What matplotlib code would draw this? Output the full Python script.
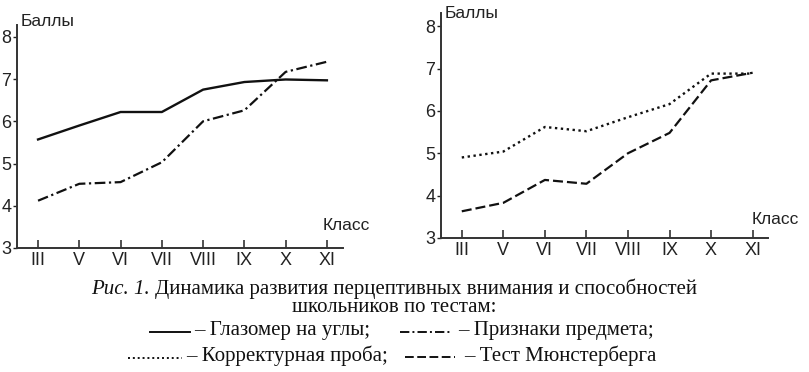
import matplotlib.pyplot as plt
from matplotlib.lines import Line2D

# Data
grades = ["III", "V", "VI", "VII", "VIII", "IX", "X", "XI"]

# left panel
eye_angles = [5.57, 5.90, 6.22, 6.22, 6.75, 6.93, 6.99, 6.97]      # Глазомер на углы
object_signs = [4.12, 4.52, 4.56, 5.03, 6.00, 6.26, 7.17, 7.41]    # Признаки предмета

# right panel
proof_test = [4.90, 5.04, 5.62, 5.52, 5.85, 6.16, 6.88, 6.88]      # Корректурная проба
munsterberg = [3.63, 3.83, 4.37, 4.28, 5.00, 5.48, 6.72, 6.90]     # Тест Мюнстерберга

W, H = 809, 372


def fx(x):
    return x / W


def fy(y):
    return 1 - y / H


SOLID = "-"
DASHDOT = (0, (4.8, 1.6, 1.0, 1.6))
DOTTED = (0, (1.0, 1.5))
DASHED = (0, (4.5, 1.8))
INK = "#111111"

plt.rcParams["font.family"] = ["Liberation Sans", "DejaVu Sans"]

fig = plt.figure(figsize=(W / 100, H / 100), dpi=100)

ax1 = fig.add_axes([fx(17), fy(248), (343 - 17) / W, (248 - 25) / H])
ax2 = fig.add_axes([fx(441), fy(238), (768 - 441) / W, (238 - 13) / H])

x = list(range(len(grades)))
ax1.plot(x, eye_angles, linestyle=SOLID, color=INK, lw=1.7)
ax1.plot(x, object_signs, linestyle=DASHDOT, color=INK, lw=1.6)
ax2.plot(x, proof_test, linestyle=DOTTED, color=INK, lw=1.7)
ax2.plot(x, munsterberg, linestyle=DASHED, color=INK, lw=1.6)

ax1.set_xlim(-0.51, 7.39)
ax1.set_ylim(3, 8.28)
ax2.set_xlim(-0.5, 7.37)
ax2.set_ylim(3, 8.31)

for ax in (ax1, ax2):
    for s in ("top", "right"):
        ax.spines[s].set_visible(False)
    for s in ("left", "bottom"):
        ax.spines[s].set_linewidth(1.4)
        ax.spines[s].set_color("#333333")
    ax.set_xticks(x, grades)
    ax.set_yticks([3, 4, 5, 6, 7, 8])
    ax.tick_params(axis="x", direction="in", length=6, width=1.1, pad=3,
                   labelsize=13, colors="#222222")
    ax.tick_params(axis="y", direction="out", length=3, width=1.0, pad=1,
                   labelsize=13, colors="#222222")
    ax.set_facecolor("none")

# axis captions
fig.text(fx(21), fy(22), "Баллы", fontsize=12.5, va="center", ha="left", color="#222222")
fig.text(fx(323), fy(226), "Класс", fontsize=12.5, va="center", ha="left", color="#222222")
fig.text(fx(445), fy(13), "Баллы", fontsize=12.5, va="center", ha="left", color="#222222")
fig.text(fx(752), fy(220), "Класс", fontsize=12.5, va="center", ha="left", color="#222222")

# figure caption
serif = ["Liberation Serif", "DejaVu Serif"]
cs = 15
renderer = fig.canvas.get_renderer()

head = fig.text(0, fy(289), "Рис. 1.", fontsize=cs, family=serif, style="italic",
                ha="left", va="center", color=INK)
rest = fig.text(0, fy(289), "Динамика развития перцептивных внимания и способностей",
                fontsize=cs, family=serif, ha="left", va="center", color=INK)
w_head = head.get_window_extent(renderer).width
w_rest = rest.get_window_extent(renderer).width
gap = 5
x0 = 394 - (w_head + w_rest + gap) / 2
head.set_x(fx(x0))
rest.set_x(fx(x0 + w_head + gap))

fig.text(fx(394), fy(308), "школьников по тестам:", fontsize=cs, family=serif,
         ha="center", va="center", color=INK)


def sample(x0, x1, y, ls):
    fig.add_artist(Line2D([fx(x0), fx(x1)], [fy(y), fy(y)], transform=fig.transFigure,
                          linestyle=ls, color=INK, lw=1.4))


sample(150, 190, 332, SOLID)
fig.text(fx(194), fy(331), "– Глазомер на углы;", fontsize=cs, family=serif,
         ha="left", va="center", color=INK)
sample(400, 452, 332, DASHDOT)
fig.text(fx(458), fy(331), "– Признаки предмета;", fontsize=cs, family=serif,
         ha="left", va="center", color=INK)

sample(128, 182, 358, DOTTED)
fig.text(fx(186), fy(356), "– Корректурная проба;", fontsize=cs, family=serif,
         ha="left", va="center", color=INK)
sample(405, 455, 357, DASHED)
fig.text(fx(464), fy(356), "– Тест Мюнстерберга", fontsize=cs, family=serif,
         ha="left", va="center", color=INK)

fig.savefig("out.png", dpi=100)
